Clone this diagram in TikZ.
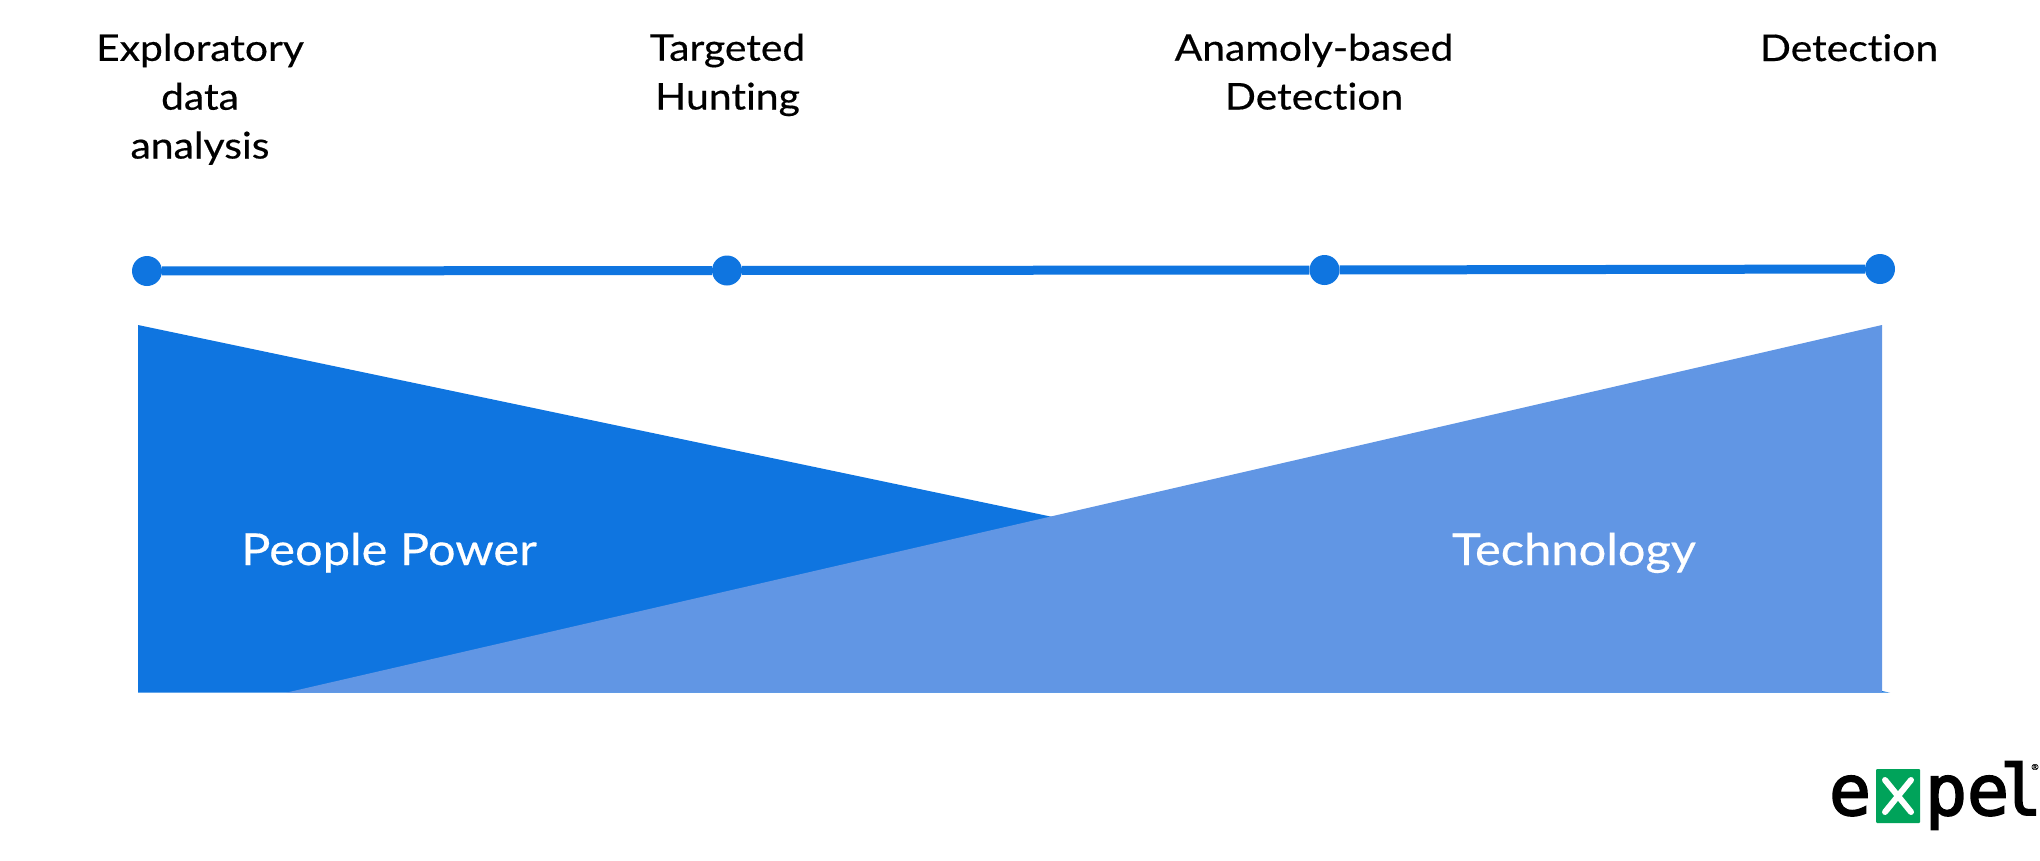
\documentclass[tikz,border=0pt]{standalone}
\usepackage{fontspec}
\setmainfont{Lato}[FakeStretch=1.11,FakeBold=0.4,Ligatures=NoCommon]
\newfontfamily\logofont{DejaVu Sans Mono}[FakeBold=2.5]
\definecolor{deepblue}{HTML}{0F75E0}
\definecolor{softblue}{HTML}{6196E4}
\definecolor{logogreen}{HTML}{00A35A}
\tikzset{
  stagelabel/.style={anchor=base,inner sep=0pt,align=center,font=\fontsize{36.8}{48.8}\selectfont,text=black},
  arealabel/.style={anchor=base,inner sep=0pt,font=\fontsize{44}{50}\selectfont,text=white},
  stagedot/.style={circle,fill=deepblue,minimum size=30pt,inner sep=0pt},
  stageline/.style={draw=deepblue,line width=9pt},
  logoletter/.style={anchor=base,inner sep=0pt,font=\logofont\fontsize{70}{70}\selectfont,text=black}
}
\begin{document}
\begin{tikzpicture}[x=1pt,y=-1pt]
\useasboundingbox[fill=white] (0,0) rectangle (2040,860);
% areas
\fill[deepblue] (138,325) -- (1890,692.7) -- (138,692.7) -- cycle;
\fill[softblue] (286,692.7) -- (1882,325) -- (1882,692.7) -- cycle;
% timeline
\node[stagedot] (d1) at (147,271) {};
\node[stagedot] (d2) at (727,270.5) {};
\node[stagedot] (d3) at (1324.5,270) {};
\node[stagedot] (d4) at (1880,269) {};
\draw[stageline] (d1) -- (d2);
\draw[stageline] (d2) -- (d3);
\draw[stageline] (d3) -- (d4);
% stage labels (baseline of the last line)
\node[stagelabel] (s1) at (200,158.5) {Exploratory\\data\\analysis};
\node[stagelabel] (s2) at (727.5,109.5) {Targeted\\Hunting};
\node[stagelabel] (s3) at (1314,109.5) {Anamoly-based\\Detection};
\node[stagelabel] (s4) at (1849,61) {Detection};
% area labels
\node[arealabel] (people) at (389,565) {People Power};
\node[arealabel] (tech) at (1574,565) {Technology};
% logo
\node[logoletter] (le1) at (1850,815) {e};
\node[fill=logogreen,minimum width=44pt,minimum height=54pt,inner sep=0pt,rounded corners=1pt] (lx) at (1898,796) {};
\draw[white,line width=6pt,line cap=round] (1885,780) -- (1911,812) (1911,780) -- (1885,812);
\node[logoletter] (lp) at (1946,815) {p};
\node[logoletter] (le2) at (1988,815) {e};
\node[logoletter] (ll) at (2021,815) {l};
\node[anchor=center,inner sep=0pt,font=\fontsize{8}{8}\selectfont] (reg) at (2035,767) {®};
\end{tikzpicture}
\end{document}
